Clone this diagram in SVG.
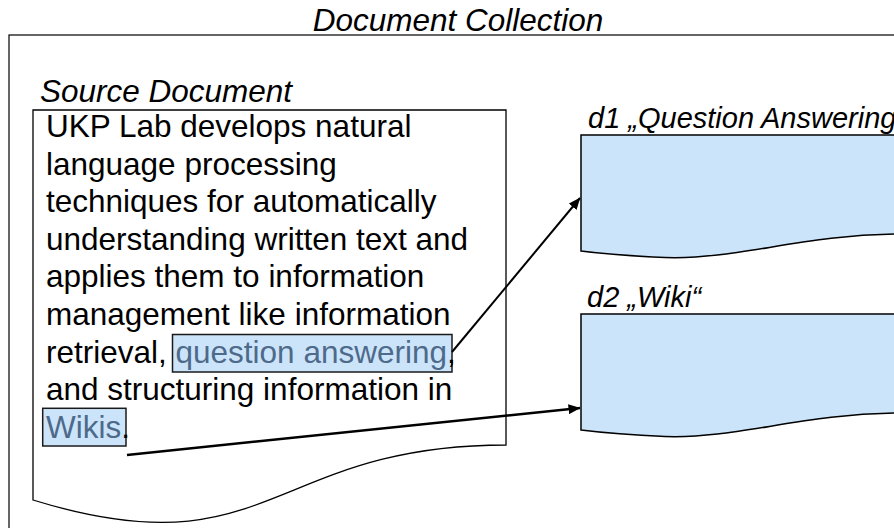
<svg xmlns="http://www.w3.org/2000/svg" width="894" height="528" viewBox="0 0 894 528">
<style>
.t{font-family:"Liberation Sans",Arial,sans-serif;fill:#000}
.lbl{font-style:italic;font-size:31.5px}
.dl{font-style:italic;font-size:29px}
.body{font-size:31.5px}
.hl{fill:#cce4fa;stroke:#1a1a1a;stroke-width:1.5}
.hlt{fill:#4e6a8a}
.doc{fill:#cce4fa;stroke:#000;stroke-width:1.5}
.conn{stroke:#000;fill:none}
</style>
<defs>
<marker id="ah" viewBox="0 0 12 10" refX="11.5" refY="5" markerWidth="12" markerHeight="10" markerUnits="userSpaceOnUse" orient="auto">
<path d="M0,0 L12,5 L0,10 z" fill="#000"/>
</marker>
</defs>
<rect width="894" height="528" fill="#fff"/>
<g id="collection">
<rect x="9" y="35" width="1000" height="600" fill="none" stroke="#000" stroke-width="1.2"/>
<text class="t lbl" x="458" y="31" text-anchor="middle">Document Collection</text>
</g>
<g id="source">
<path d="M33,110 H506 V445 C269.5,445 269.5,573 33,500 Z" fill="#fff" stroke="#000" stroke-width="1.3"/>
<text class="t lbl" x="40" y="102">Source Document</text>
<rect class="hl" x="172.5" y="334.5" width="279.5" height="37.5"/>
<rect class="hl" x="42.7" y="408.3" width="83.3" height="37.7"/>
<text class="t body">
<tspan x="46" y="137">UKP Lab develops natural</tspan>
<tspan x="46" y="174.6">language processing</tspan>
<tspan x="46" y="212.2">techniques for automatically</tspan>
<tspan x="46" y="249.8">understanding written text and</tspan>
<tspan x="46" y="287.4">applies them to information</tspan>
<tspan x="46" y="325">management like information</tspan>
<tspan x="46" y="362.6">retrieval, <tspan class="hlt">question answering</tspan>,</tspan>
<tspan x="46" y="400.2">and structuring information in</tspan>
<tspan x="46" y="437.8"><tspan class="hlt">Wikis</tspan>.</tspan>
</text>
</g>
<g id="d1">
<path class="doc" d="M581,135 H905 V234 C800,234 740,260 665,257.5 C630,256 605,254 581,251 Z"/>
<text class="t dl" x="588" y="128">d1 „Question Answering</text>
</g>
<g id="d2">
<path class="doc" d="M581,314 H905 V413 C800,413 740,439 665,436.5 C630,435 605,433 581,430 Z"/>
<text class="t dl" x="587" y="307">d2 „Wiki“</text>
</g>
<g id="connectors">
<line class="conn" x1="452" y1="352" x2="580" y2="198" stroke-width="2" marker-end="url(#ah)"/>
<line class="conn" x1="127" y1="455" x2="580" y2="408" stroke-width="2.5" marker-end="url(#ah)"/>
</g>
</svg>
